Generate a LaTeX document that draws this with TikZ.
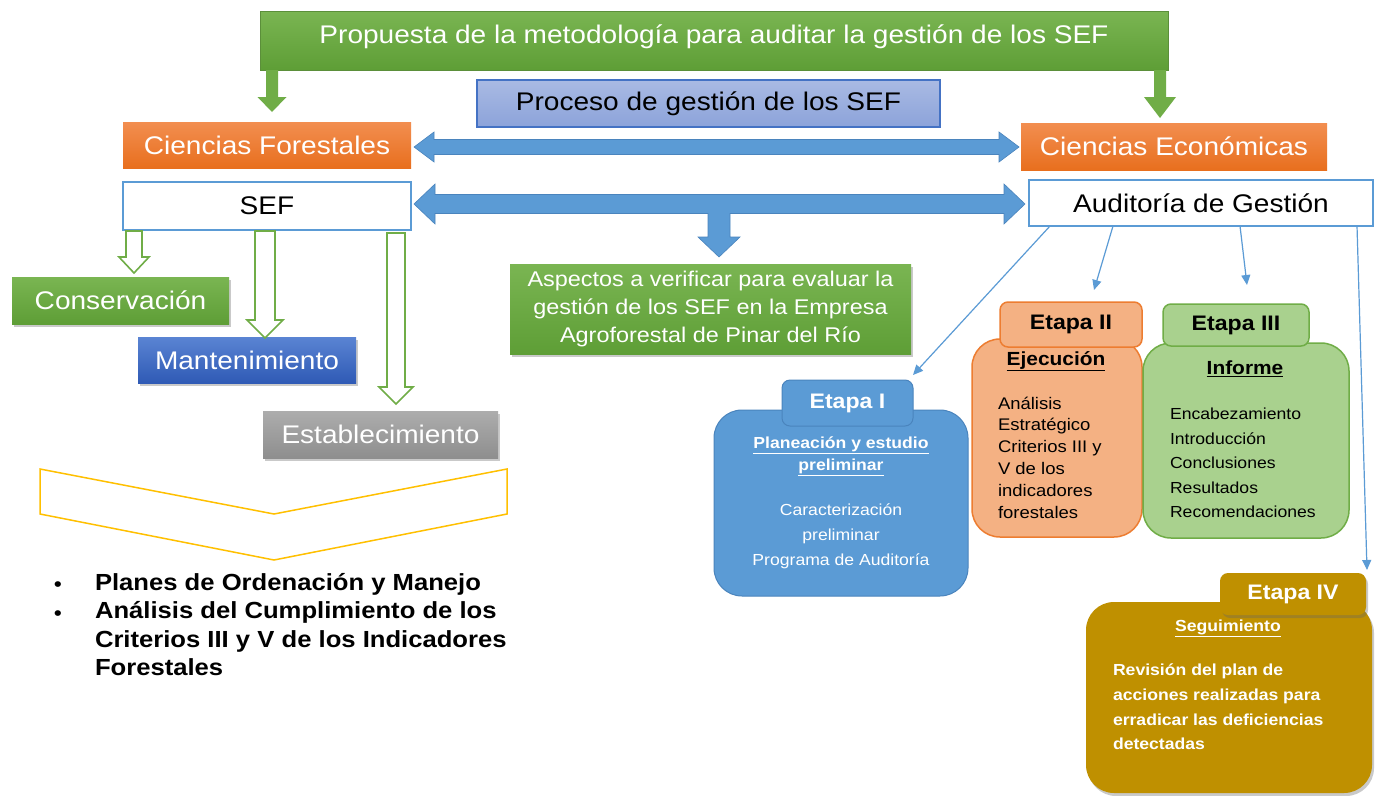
\documentclass[tikz,border=0pt]{standalone}
\usepackage{fontspec}
\setmainfont{Liberation Sans}[FakeStretch=1.1]
\usetikzlibrary{arrows.meta,shadows,calc}
\definecolor{gtop}{HTML}{7AB552}
\definecolor{gbot}{HTML}{5E9E36}
\definecolor{gline}{HTML}{5B8F3A}
\definecolor{gmid}{HTML}{70AD47}
\definecolor{otop}{HTML}{F28E50}
\definecolor{obot}{HTML}{E86F1E}
\definecolor{btop}{HTML}{A9BAE3}
\definecolor{bbot}{HTML}{8CA3DA}
\definecolor{bline}{HTML}{4472C4}
\definecolor{sky}{HTML}{5B9BD5}
\definecolor{skyd}{HTML}{4A84BD}
\definecolor{mtop}{HTML}{5A84D3}
\definecolor{mbot}{HTML}{2F5AB5}
\definecolor{ytop}{HTML}{ADADAD}
\definecolor{ybot}{HTML}{8E8E8E}
\definecolor{salmon}{HTML}{F4B183}
\definecolor{orng}{HTML}{ED7D31}
\definecolor{lgreen}{HTML}{A9D18E}
\definecolor{gold}{HTML}{BF9000}
\definecolor{amber}{HTML}{FFC000}
\newcommand\myfs[2]{\fontsize{#1}{#2}\selectfont}
\begin{document}
\begin{tikzpicture}[x=1pt,y=-1pt,
  base/.style={rectangle,inner sep=0pt,outer sep=0pt},
  big/.style={font=\myfs{25.5}{28}},
  greenbox/.style={base,top color=gtop,bottom color=gbot,draw=gline,line width=0.6,text=white},
  orangebox/.style={base,top color=otop,bottom color=obot,draw=none,text=white},
  whitebox/.style={base,fill=white,draw=sky,line width=1.2,text=black},
  shadowed/.style={drop shadow={shadow xshift=2pt,shadow yshift=-3pt,opacity=0.35,fill=black!60}},
  fatarrow/.style={fill=sky,draw=skyd,line width=0.6},
  solidgreen/.style={fill=gmid,draw=none},
  hollowgreen/.style={fill=white,draw=gmid,line width=1.6},
  thinarrow/.style={draw=sky,line width=1.2,-{Triangle[length=10pt,width=9pt]}},
  maincard/.style={base,rounded corners=28pt},
  tabcard/.style={base,rounded corners=8pt,font=\myfs{21}{24}\bfseries},
  lbl/.style={inner sep=0pt,outer sep=0pt}
]
\useasboundingbox (0,0) rectangle (1380,795);
\fill[white] (0,0) rectangle (1380,795);

% title and top boxes
\node[greenbox,minimum width=908,minimum height=59] (title) at (714,40.5) {};
\node[lbl,big,text=white] (titletext) at (714,37) {Propuesta de la metodología para auditar la gestión de los SEF};
\node[base,big,top color=btop,bottom color=bbot,draw=bline,line width=1.2,minimum width=463,minimum height=47] (proc) at (708.5,103.5) {Proceso de gestión de los SEF};
\node[orangebox,big,minimum width=288,minimum height=46] (cf) at (267,145) {Ciencias Forestales};
\node[orangebox,big,minimum width=306,minimum height=47] (ce) at (1174,146.5) {Ciencias Económicas};
\node[whitebox,big,minimum width=288,minimum height=48] (sef) at (267,206) {SEF};
\node[whitebox,big,minimum width=344,minimum height=46] (aud) at (1201,203) {Auditoría de Gestión};

% green arrows from title
\fill[solidgreen] (266,70) -- (278,70) -- (278,97) -- (286.5,97) -- (272,112) -- (257.5,97) -- (266,97) -- cycle;
\fill[solidgreen] (1154,70) -- (1166,70) -- (1166,97) -- (1176,97) -- (1160,118) -- (1144,97) -- (1154,97) -- cycle;

% double arrow CF <-> CE
\draw[fatarrow] (414,147) -- (434,132) -- (434,139.5) -- (999,139.5) -- (999,132) -- (1019,147) -- (999,162) -- (999,154.5) -- (434,154.5) -- (434,162) -- cycle;

% double arrow SEF <-> Auditoria with branch down
\draw[fatarrow] (414,204) -- (435,184) -- (435,194.5) -- (1004,194.5) -- (1004,184) -- (1025,204) -- (1004,224) -- (1004,213.5) -- (730,213.5) -- (730,237) -- (740,237) -- (719,257) -- (698,237) -- (708,237) -- (708,213.5) -- (435,213.5) -- (435,224) -- cycle;

% green process boxes
\node[greenbox,shadowed,draw=none,minimum width=401,minimum height=90,align=center,font=\myfs{21.3}{28}] (asp) at (710.5,309) {Aspectos a verificar para evaluar la\\gestión de los SEF en la Empresa\\Agroforestal de Pinar del Río};
\node[greenbox,big,shadowed,draw=none,minimum width=217,minimum height=47] (cons) at (120.5,300.5) {Conservación};
\node[base,big,shadowed,top color=mtop,bottom color=mbot,text=white,minimum width=218,minimum height=46] (mant) at (247,360) {Mantenimiento};
\node[base,big,shadowed,top color=ytop,bottom color=ybot,text=white,minimum width=235,minimum height=47] (est) at (380.5,434.5) {Establecimiento};

% hollow arrows from SEF
\draw[hollowgreen] (126,231) -- (142,231) -- (142,257) -- (149,257) -- (134,273) -- (119,257) -- (126,257) -- cycle;
\draw[hollowgreen] (255,231) -- (275,231) -- (275,320) -- (283,320) -- (265,338) -- (247,320) -- (255,320) -- cycle;
\draw[hollowgreen] (387,233) -- (405,233) -- (405,387) -- (413,387) -- (396,404) -- (379,387) -- (387,387) -- cycle;

% chevron
\draw[amber,line width=1.5,line join=miter] (40,469) -- (274,514) -- (507,469) -- (507,514) -- (274,560) -- (40,514) -- cycle;

% bullet list
\node[lbl,anchor=north west,align=left,font=\myfs{23.3}{28.5}\bfseries] (blist) at (95,573) {Planes de Ordenación y Manejo\\Análisis del Cumplimiento de los\\Criterios III y V de los Indicadores\\Forestales};
\node[lbl,font=\myfs{21}{24}] (b1) at (58,587) {\textbullet};
\node[lbl,font=\myfs{21}{24}] (b2) at (58,615.5) {\textbullet};

% Etapa cards
\node[maincard,fill=sky,draw=skyd,line width=1,minimum width=254,minimum height=186] (e1main) at (841,503) {};
\node[tabcard,fill=sky,draw=skyd,line width=1,minimum width=131,minimum height=46,text=white] (e1tab) at (847.5,403) {Etapa I};
\node[lbl,align=center,text=white,font=\myfs{16}{22}\bfseries] (e1h) at (841,456) {\underline{Planeación y estudio}\\\underline{preliminar}};
\node[lbl,align=center,text=white,font=\myfs{16}{25}] (e1b) at (841,536) {Caracterización\\preliminar\\Programa de Auditoría};

\node[maincard,fill=salmon,draw=orng,line width=1.5,minimum width=170,minimum height=198] (e2main) at (1057,438) {};
\node[tabcard,fill=salmon,draw=orng,line width=1.5,minimum width=142,minimum height=45] (e2tab) at (1071,324.5) {Etapa II};
\node[lbl,font=\myfs{19}{22}\bfseries] (e2h) at (1056,361) {\underline{Ejecución}};
\node[lbl,anchor=west,align=left,font=\myfs{16.8}{21.8}] (e2b) at (998,457.5) {Análisis\\Estratégico\\Criterios III y\\V de los\\indicadores\\forestales};

\node[maincard,fill=lgreen,draw=gmid,line width=1.5,minimum width=206,minimum height=195] (e3main) at (1246,440.5) {};
\node[tabcard,fill=lgreen,draw=gmid,line width=1.5,minimum width=146,minimum height=42] (e3tab) at (1236,325) {Etapa III};
\node[lbl,font=\myfs{19}{22}\bfseries] (e3h) at (1245,369) {\underline{Informe}};
\node[lbl,anchor=west,align=left,font=\myfs{16}{24.5}] (e3b) at (1170,463) {Encabezamiento\\Introducción\\Conclusiones\\Resultados\\Recomendaciones};

\node[maincard,shadowed,fill=gold,minimum width=286,minimum height=191] (e4main) at (1229,697.5) {};
\node[tabcard,shadowed,fill=gold,minimum width=146,minimum height=42,text=white] (e4tab) at (1293,594) {Etapa IV};
\node[lbl,text=white,font=\myfs{16}{22}\bfseries] (e4h) at (1228,628) {\underline{Seguimiento}};
\node[lbl,anchor=west,align=left,text=white,font=\myfs{16}{24.7}\bfseries] (e4b) at (1113,707) {Revisión del plan de\\acciones realizadas para\\erradicar las deficiencias\\detectadas};

% thin arrows from Auditoria
\coordinate (t1) at (913,375);
\coordinate (t2) at (1094,290);
\coordinate (t3) at (1247,285);
\coordinate (t4) at (1367,570);
\draw[thinarrow] ($(aud.south west)+(21,0)$) -- (t1);
\draw[thinarrow] ($(aud.south west)+(84,0)$) -- (t2);
\draw[thinarrow] ($(aud.south west)+(211,0)$) -- (t3);
\draw[thinarrow] ($(aud.south west)+(328,0)$) -- (t4);
\end{tikzpicture}
\end{document}
